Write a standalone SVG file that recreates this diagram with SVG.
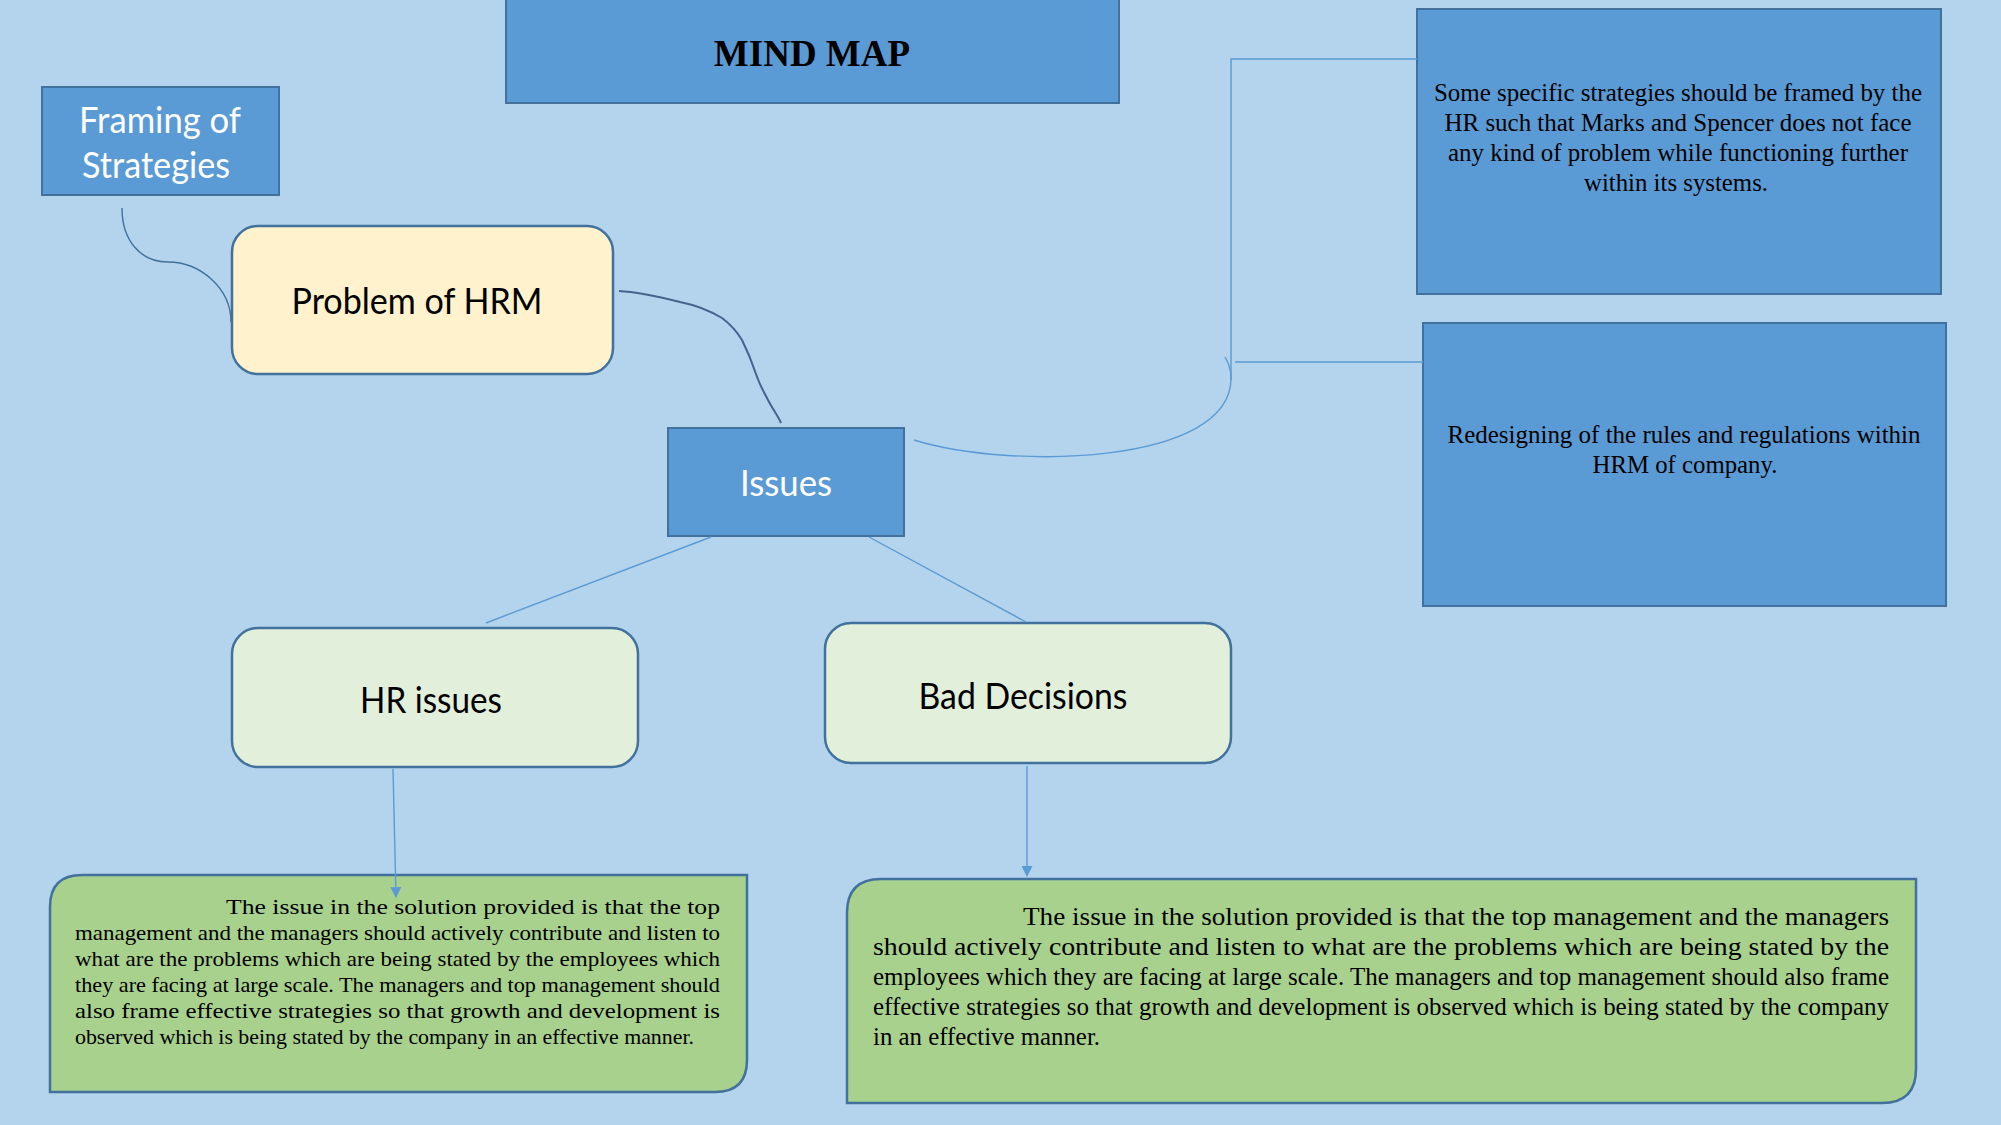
<svg xmlns="http://www.w3.org/2000/svg" width="2001" height="1125" viewBox="0 0 2001 1125">
<defs>
<style>
.blue{fill:#5b9bd5;stroke:#41719c;stroke-width:2}
.cream{fill:#fff2cc;stroke:#41719c;stroke-width:2.5}
.pale{fill:#e2efda;stroke:#41719c;stroke-width:2.5}
.green{fill:#a9d18e;stroke:#41719c;stroke-width:2.5}
.sans{font-family:Lato,"Liberation Sans",sans-serif;font-size:36px;text-anchor:middle}
.w{fill:#ffffff}
.k{fill:#000000}
.ser{font-family:"Liberation Serif",serif;fill:#000}
.c{text-anchor:middle;font-size:25px}
.j1{font-size:21.5px}
.j2{font-size:25px}
.ln{fill:none;stroke:#5b9bd5;stroke-width:1.4}
.dk{fill:none;stroke:#41719c;stroke-width:1.4}
</style>
<marker id="arr" viewBox="0 0 10 10" refX="9" refY="5" markerWidth="12" markerHeight="11" markerUnits="userSpaceOnUse" orient="auto">
<path d="M0,0 L10,5 L0,10 z" fill="#5b9bd5"/>
</marker>
</defs>
<rect width="2001" height="1125" fill="#b4d3ec"/>

<g id="title">
<rect class="blue" x="506" y="-2" width="613" height="105"/>
<text x="812" y="66" font-family="Liberation Serif,serif" font-weight="bold" font-size="37" text-anchor="middle" fill="#000">MIND MAP</text>
</g>

<g id="framing">
<rect class="blue" x="42" y="87" width="237" height="108"/>
<text class="sans w" x="160" y="133" textLength="162" lengthAdjust="spacingAndGlyphs">Framing of</text>
<text class="sans w" x="156" y="178" textLength="148" lengthAdjust="spacingAndGlyphs">Strategies</text>
</g>

<g id="problem">
<rect class="cream" x="232" y="226" width="381" height="148" rx="26"/>
<text class="sans k" x="417" y="314" textLength="251" lengthAdjust="spacingAndGlyphs">Problem of HRM</text>
</g>

<g id="issues">
<rect class="blue" x="668" y="428" width="236" height="108"/>
<text class="sans w" x="786" y="496" textLength="92" lengthAdjust="spacingAndGlyphs">Issues</text>
</g>

<g id="hr-issues">
<rect class="pale" x="232" y="628" width="406" height="139" rx="26"/>
<text class="sans k" x="431" y="713" textLength="142" lengthAdjust="spacingAndGlyphs">HR issues</text>
</g>

<g id="bad-decisions">
<rect class="pale" x="825" y="623" width="406" height="140" rx="26"/>
<text class="sans k" x="1023" y="709" textLength="209" lengthAdjust="spacingAndGlyphs">Bad Decisions</text>
</g>

<g id="strategy-note">
<rect class="blue" x="1417" y="9" width="524" height="285"/>
<text class="ser c" x="1678" y="101" textLength="488" lengthAdjust="spacingAndGlyphs">Some specific strategies should be framed by the</text>
<text class="ser c" x="1678" y="131" textLength="467" lengthAdjust="spacingAndGlyphs">HR such that Marks and Spencer does not face</text>
<text class="ser c" x="1678" y="161" textLength="460" lengthAdjust="spacingAndGlyphs">any kind of problem while functioning further</text>
<text class="ser c" x="1676" y="191" textLength="184" lengthAdjust="spacingAndGlyphs">within its systems.</text>
</g>

<g id="redesign-note">
<rect class="blue" x="1423" y="323" width="523" height="283"/>
<text class="ser c" x="1684" y="443" textLength="473" lengthAdjust="spacingAndGlyphs">Redesigning of the rules and regulations within</text>
<text class="ser c" x="1685" y="473" textLength="185" lengthAdjust="spacingAndGlyphs">HRM of company.</text>
</g>

<g id="hr-detail">
<path class="green" d="M82,875 L747,875 L747,1060 Q747,1092 715,1092 L50,1092 L50,907 Q50,875 82,875 Z"/>
<text class="ser j1" x="226" y="914" textLength="494" lengthAdjust="spacingAndGlyphs">The issue in the solution provided is that the top</text>
<text class="ser j1" x="75" y="940" textLength="645" lengthAdjust="spacingAndGlyphs">management and the managers should actively contribute and listen to</text>
<text class="ser j1" x="75" y="966" textLength="645" lengthAdjust="spacingAndGlyphs">what are the problems which are being stated by the employees which</text>
<text class="ser j1" x="75" y="992" textLength="645" lengthAdjust="spacingAndGlyphs">they are facing at large scale. The managers and top management should</text>
<text class="ser j1" x="75" y="1018" textLength="645" lengthAdjust="spacingAndGlyphs">also frame effective strategies so that growth and development is</text>
<text class="ser j1" x="75" y="1044" textLength="619" lengthAdjust="spacingAndGlyphs">observed which is being stated by the company in an effective manner.</text>
</g>

<g id="bad-detail">
<path class="green" d="M881,879 L1916,879 L1916,1069 Q1916,1103 1882,1103 L847,1103 L847,913 Q847,879 881,879 Z"/>
<text class="ser j2" x="1023" y="925" textLength="866" lengthAdjust="spacingAndGlyphs">The issue in the solution provided is that the top management and the managers</text>
<text class="ser j2" x="873" y="955" textLength="1016" lengthAdjust="spacingAndGlyphs">should actively contribute and listen to what are the problems which are being stated by the</text>
<text class="ser j2" x="873" y="985" textLength="1016" lengthAdjust="spacingAndGlyphs">employees which they are facing at large scale. The managers and top management should also frame</text>
<text class="ser j2" x="873" y="1015" textLength="1016" lengthAdjust="spacingAndGlyphs">effective strategies so that growth and development is observed which is being stated by the company</text>
<text class="ser j2" x="873" y="1045" textLength="227" lengthAdjust="spacingAndGlyphs">in an effective manner.</text>
</g>

<g id="connectors">
<path class="dk" d="M122,208 C122,240 140,262 168,262 C200,262 231,288 231,322"/>
<path d="M619,291 C640,292 660,297 680,302 C700,306 712,312 722,318 C730,324 736,330 742,340 C748,352 752,362 756,374 C760,386 764,392 768,400 C772,408 778,416 781,423" fill="none" stroke="#44638d" stroke-width="2"/>
<line class="ln" x1="711" y1="537" x2="486" y2="623"/>
<line class="ln" x1="869" y1="537" x2="1026" y2="622"/>
<path class="ln" d="M914,440 C1010,470 1232,465 1231,378 C1231,370 1228,362 1225,357"/>
<polyline class="ln" points="1417,59 1231,59 1231,380"/>
<line class="ln" x1="1235" y1="362" x2="1423" y2="362"/>
<line class="ln" x1="393" y1="769" x2="396" y2="897" marker-end="url(#arr)"/>
<line class="ln" x1="1027" y1="766" x2="1027" y2="876" marker-end="url(#arr)"/>
</g>
</svg>
